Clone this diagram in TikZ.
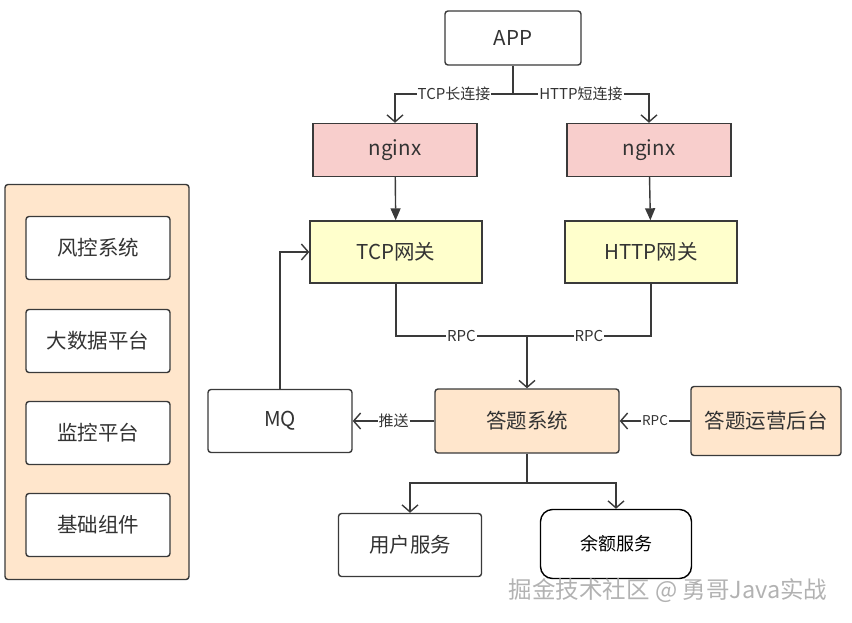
\documentclass[tikz,border=0pt]{standalone}
\usepackage{fontspec}
\setmainfont{Noto Sans CJK SC}
\usetikzlibrary{arrows.meta}
\definecolor{edgegray}{HTML}{3A3A3A}
\definecolor{txtgray}{HTML}{333333}
\definecolor{peach}{HTML}{FFE6CC}
\definecolor{pinkred}{HTML}{F8CECC}
\definecolor{lightyel}{HTML}{FFFFCC}
\begin{document}
\begin{tikzpicture}[x=1pt, y=-1pt,
   every node/.style={text=txtgray, font=\fontsize{20.5}{24}\selectfont},
   box/.style={draw=edgegray, line width=1.4pt, rounded corners=3pt, fill=white},
   nginxbox/.style={box, fill=pinkred, rounded corners=0pt, minimum width=164, minimum height=53},
   gatebox/.style={box, fill=lightyel, rounded corners=0pt, minimum width=172, minimum height=62},
   sidebox/.style={box, minimum width=144, minimum height=63},
   lbl/.style={fill=white, inner sep=1pt, font=\fontsize{15}{17}\selectfont},
   conn/.style={draw=edgegray, line width=1.4pt},
   openarr/.style={conn, -{Straight Barb[length=7pt, width=16pt, line width=1.4pt]}},
   fillarr/.style={conn, -{Triangle[length=12pt, width=10pt]}}]

\useasboundingbox (0,0) rectangle (852,622);

% side panel
\node[box, fill=peach, minimum width=184, minimum height=395] (side) at (97,382) {};
\node[sidebox] (risk) at (98,248) {风控系统};
\node[sidebox] (bigdata) at (98,341) {大数据平台};
\node[sidebox] (monitor) at (98,433) {监控平台};
\node[sidebox] (basic) at (98,525) {基础组件};

% main flow
\node[box, minimum width=136, minimum height=54] (app) at (513,38) {APP};
\node[nginxbox] (ngx1) at (395,150) {nginx};
\node[nginxbox] (ngx2) at (649,150) {nginx};
\node[gatebox] (tcp) at (396,252) {TCP网关};
\node[gatebox] (http) at (651,252) {HTTP网关};
\node[box, minimum width=144, minimum height=63] (mq) at (280,421) {MQ};
\node[box, fill=peach, minimum width=184, minimum height=64] (sys) at (527,421) {答题系统};
\node[box, fill=peach, minimum width=150, minimum height=69] (ops) at (766,421) {答题运营后台};
\node[box, draw=black, rounded corners=12pt, minimum width=151, minimum height=69,
      text=black, font=\fontsize{18}{21}\selectfont] (bal) at (616,544) {余额服务};
\node[box, minimum width=143, minimum height=63] (user) at (410,545) {用户服务};

\coordinate (split) at (513,94);
\coordinate (join) at (527,336);
\coordinate (fork) at (527,483);

\draw[conn] (app.south) -- (split);
\draw[openarr] (split) -- node[lbl] {TCP长连接} (split -| ngx1) -- (ngx1.north);
\draw[openarr] (split) -- node[lbl] {HTTP短连接} (split -| ngx2) -- (ngx2.north);
\draw[fillarr] (ngx1) -- (tcp);
\draw[fillarr] (ngx2) -- (http);
\draw[conn] (tcp.south) |- node[lbl, pos=0.75] {RPC} (join);
\draw[conn] (http.south) |- node[lbl, pos=0.75] {RPC} (join);
\draw[openarr] (join) -- (sys.north);
\draw[openarr] (mq.north) |- (tcp.west);
\draw[openarr] (sys.west) -- node[lbl] {推送} (mq.east);
\draw[openarr] (ops.west) -- node[lbl, font=\fontsize{13.5}{15}\selectfont] {RPC} (sys.east);
\draw[conn] (sys.south) -- (fork);
\draw[openarr] (fork) -| (user.north);
\draw[openarr] (fork) -| (bal.north);

\node[text=gray!60, font=\fontsize{23.5}{26}\selectfont] (mark) at (668,591) {掘金技术社区 @ 勇哥Java实战};

\end{tikzpicture}
\end{document}
